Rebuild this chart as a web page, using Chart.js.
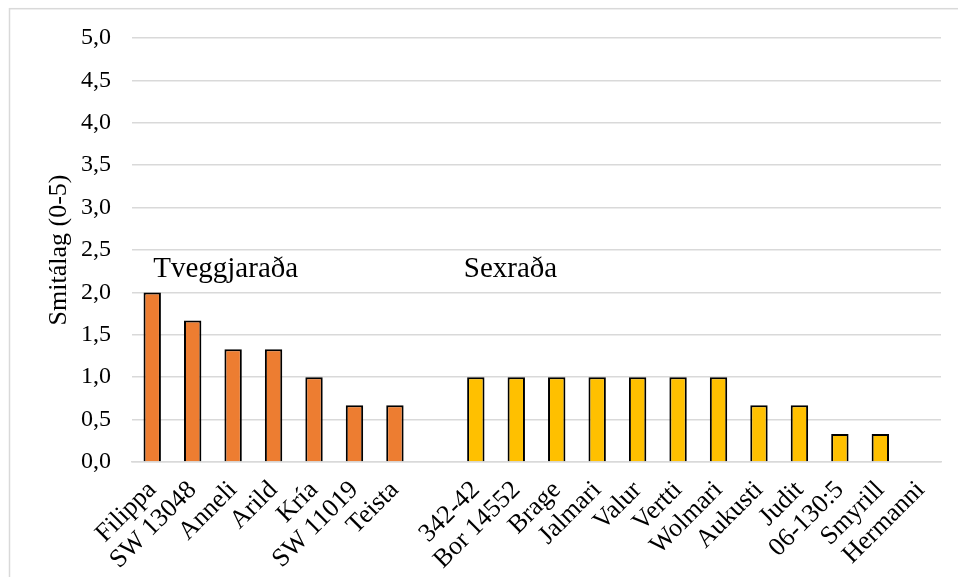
<!DOCTYPE html>
<html>
<head>
<meta charset="utf-8">
<script src="https://cdn.jsdelivr.net/npm/chart.js@4/dist/chart.umd.min.js"></script>
<style>
  html, body { margin: 0; padding: 0; background: #fff; }
  #wrap { width: 958px; height: 577px; position: relative; }
</style>
</head>
<body>
<div id="wrap"><canvas id="chart"></canvas></div>
<script>
// two-row and six-row barley cultivars, infection score (0-5)
const twoRowNames = ['Filippa', 'SW 13048', 'Anneli', 'Arild', 'Kría', 'SW 11019', 'Teista'];
const twoRowScores = [2.0, 1.67, 1.33, 1.33, 1.0, 0.67, 0.67];
const sixRowNames = ['342-42', 'Bor 14552', 'Brage', 'Jalmari', 'Valur', 'Vertti', 'Wolmari',
  'Aukusti', 'Judit', '06-130:5', 'Smyrill', 'Hermanni'];
const sixRowScores = [1.0, 1.0, 1.0, 1.0, 1.0, 1.0, 1.0, 0.67, 0.67, 0.33, 0.33, 0];
const groupTitles = ['Tveggjaraða', 'Sexraða'];
const yTicks = [0, 0.5, 1, 1.5, 2, 2.5, 3, 3.5, 4, 4.5, 5];

// one empty slot separates the two groups
const labels = [...twoRowNames, '', ...sixRowNames];
const gap = twoRowNames.length;
const twoRowData = labels.map((_, i) => i < gap ? twoRowScores[i] : null);
const sixRowData = labels.map((_, i) => i > gap ? sixRowScores[i - gap - 1] : null);

const FONT = '"Liberation Serif", "Times New Roman", serif';

const frame = {
  id: 'frame',
  beforeDraw(chart) {
    const ctx = chart.ctx;
    ctx.save();
    ctx.fillStyle = '#fff';
    ctx.fillRect(0, 0, chart.width, chart.height);
    ctx.strokeStyle = '#d9d9d9';
    ctx.lineWidth = 1.5;
    ctx.strokeRect(9.5, 8.7, chart.width + 20, chart.height + 20);
    ctx.restore();
  }
};

const groupLabels = {
  id: 'groupLabels',
  afterDatasetsDraw(chart) {
    const { ctx, scales: { x, y } } = chart;
    ctx.save();
    ctx.font = '29px ' + FONT;
    ctx.fillStyle = '#000';
    ctx.textBaseline = 'alphabetic';
    ctx.textAlign = 'left';
    const baseY = y.getPixelForValue(2.18);
    ctx.fillText(groupTitles[0], x.getPixelForValue(0) + 1, baseY);
    ctx.fillText(groupTitles[1], x.getPixelForValue(gap + 1) - 12, baseY);
    ctx.restore();
  }
};

new Chart(document.getElementById('chart'), {
  type: 'bar',
  data: {
    labels: labels,
    datasets: [{
      label: groupTitles[0],
      data: twoRowData,
      backgroundColor: '#ED7D31',
      borderColor: '#000',
      borderWidth: 2,
      borderSkipped: 'start'
    }, {
      label: groupTitles[1],
      data: sixRowData,
      backgroundColor: '#FFC000',
      borderColor: '#000',
      borderWidth: 2,
      borderSkipped: 'start'
    }]
  },
  options: {
    responsive: true,
    maintainAspectRatio: false,
    animation: false,
    grouped: false,
    barPercentage: 0.43,
    categoryPercentage: 1,
    layout: { padding: { left: 0, right: 17, top: 38, bottom: 0 } },
    plugins: {
      legend: { display: false },
      tooltip: { enabled: false }
    },
    scales: {
      x: {
        grid: { display: false, drawTicks: false },
        border: { display: true, color: '#d9d9d9', width: 1.5 },
        ticks: {
          color: '#000',
          font: { family: FONT, size: 26 },
          minRotation: 45,
          maxRotation: 45,
          autoSkip: false,
          padding: 13
        },
        afterFit(scale) { scale.height = 577 - 462; }
      },
      y: {
        min: 0,
        max: 5,
        afterBuildTicks(scale) { scale.ticks = yTicks.map(v => ({ value: v })); },
        grid: { color: '#d9d9d9', lineWidth: 1.5, drawTicks: false },
        border: { display: false },
        ticks: {
          color: '#000',
          font: { family: FONT, size: 24 },
          padding: 21,
          callback: v => v.toFixed(1).replace('.', ',')
        },
        title: {
          display: true,
          text: 'Smitálag (0-5)',
          color: '#000',
          font: { family: FONT, size: 26 },
          padding: { top: 44, bottom: 0 }
        },
        afterFit(scale) { scale.width = 132; }
      }
    }
  },
  plugins: [frame, groupLabels]
});
</script>
</body>
</html>
